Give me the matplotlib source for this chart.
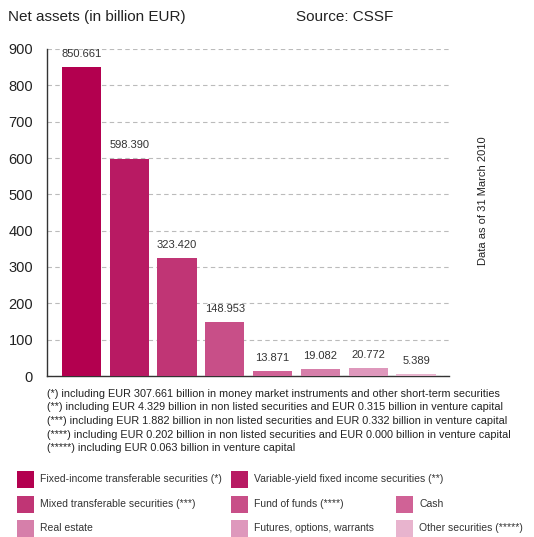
import matplotlib
matplotlib.use('Agg')
import matplotlib.pyplot as plt
from matplotlib.patches import Rectangle

plt.rcParams['font.family'] = ['Liberation Sans', 'DejaVu Sans']

# Net assets by fund type, billion EUR
categories = [
    "Fixed-income transferable securities (*)",
    "Variable-yield fixed income securities (**)",
    "Mixed transferable securities (***)",
    "Fund of funds (****)",
    "Cash",
    "Real estate",
    "Futures, options, warrants",
    "Other securities (*****)",
]
values = [850.661, 598.390, 323.420, 148.953, 13.871, 19.082, 20.772, 5.389]
colors = ["#B3004F", "#B81A63", "#C03575", "#C84F88",
          "#D06296", "#D67FAA", "#DE98BC", "#E8B4CE"]
yticks = [0, 100, 200, 300, 400, 500, 600, 700, 800, 900]

footnotes = [
    "(*) including EUR 307.661 billion in money market instruments and other short-term securities",
    "(**) including EUR 4.329 billion in non listed securities and EUR 0.315 billion in venture capital",
    "(***) including EUR 1.882 billion in non listed securities and EUR 0.332 billion in venture capital",
    "(****) including EUR 0.202 billion in non listed securities and EUR 0.000 billion in venture capital",
    "(*****) including EUR 0.063 billion in venture capital",
]

W, H = 534, 537
fig = plt.figure(figsize=(W / 100, H / 100), dpi=100)
fig.patch.set_facecolor('white')

ax = fig.add_axes([47 / W, 1 - 376 / H, (449 - 47) / W, (376 - 49) / H])
x = range(len(values))
bars = ax.bar(x, values, width=0.82, color=colors, zorder=3)

for bar, v in zip(bars, values):
    ax.annotate(f"{v:.3f}", xy=(bar.get_x() + bar.get_width() / 2, v),
                xytext=(0, 6), textcoords="offset points",
                ha='center', va='bottom', fontsize=8, color='#333333')

ax.set_xlim(-0.72, 7.69)
ax.set_ylim(0, 900)
ax.set_yticks(yticks)
ax.set_xticks([])
ax.tick_params(axis='y', length=0, labelsize=10.5, pad=10, colors='#222222')
ax.grid(axis='y', color='#BBBBBB', linestyle=(0, (4, 3)), linewidth=0.8, zorder=0)
for side in ('top', 'right'):
    ax.spines[side].set_visible(False)
for side in ('left', 'bottom'):
    ax.spines[side].set_color('#333333')
    ax.spines[side].set_linewidth(1.0)

# Header texts
fig.text(8 / W, 1 - 17 / H, "Net assets (in billion EUR)", fontsize=11,
         va='center', ha='left', color='#222222')
fig.text(296 / W, 1 - 17 / H, "Source: CSSF", fontsize=11,
         va='center', ha='left', color='#222222')
fig.text(483 / W, 1 - 201 / H, "Data as of 31 March 2010", fontsize=8,
         rotation=90, va='center', ha='center', color='#222222')

# Footnotes under the chart
for i, line in enumerate(footnotes):
    fig.text(47 / W, 1 - (394 + i * 13.5) / H, line, fontsize=7.8,
             va='center', ha='left', color='#222222')

# Legend laid out as a 3-column grid
legend_cells = [(0, 0), (1, 0), (0, 1), (1, 1), (2, 1), (0, 2), (1, 2), (2, 2)]
col_x = [17, 231, 396]
row_y = [479, 504, 528]
box = 17
for (c, r), label, col in zip(legend_cells, categories, colors):
    x0, yc = col_x[c], row_y[r]
    fig.patches.append(Rectangle((x0 / W, 1 - (yc + box / 2) / H), box / W, box / H,
                                 transform=fig.transFigure, facecolor=col,
                                 edgecolor='none'))
    fig.text((x0 + 23) / W, 1 - yc / H, label, fontsize=7.5,
             va='center', ha='left', color='#333333')

fig.savefig('out.png', dpi=100, facecolor='white')
